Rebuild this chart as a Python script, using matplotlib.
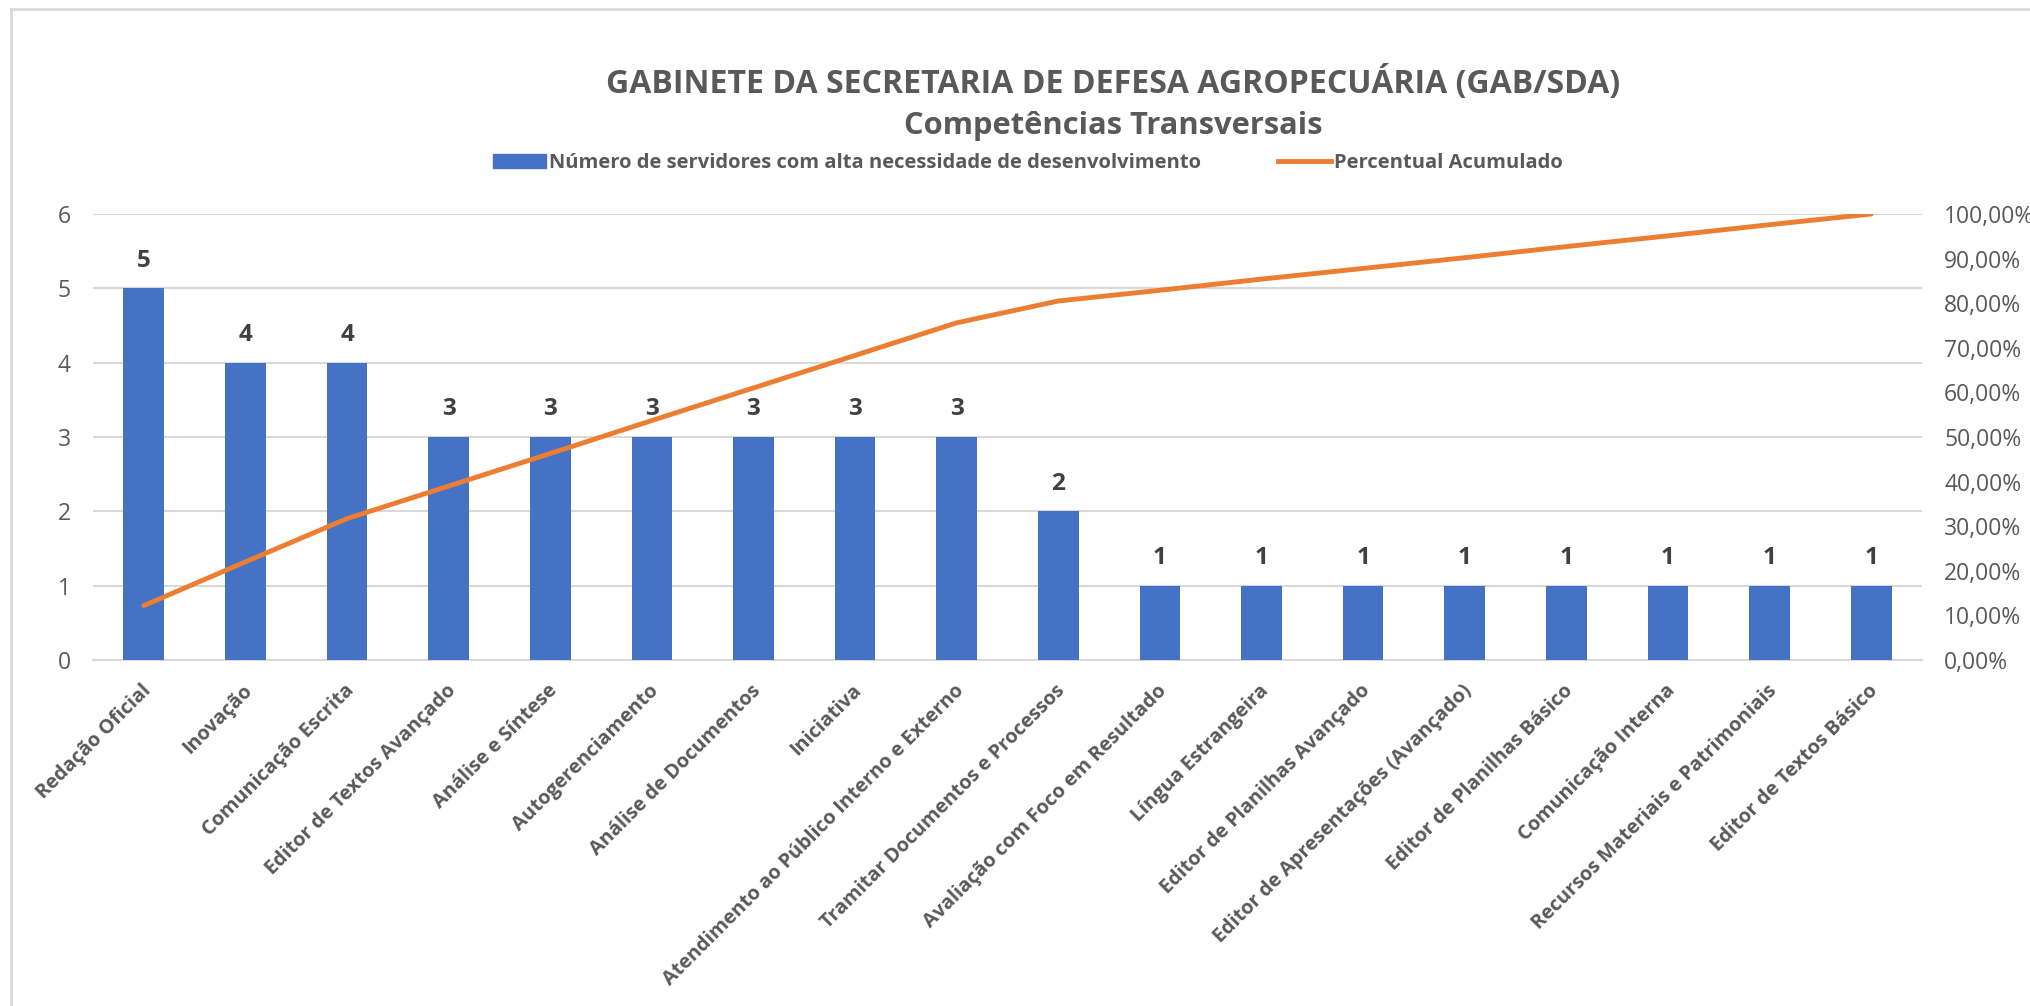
import matplotlib.pyplot as plt
import matplotlib.transforms as mtransforms
from matplotlib.lines import Line2D
from matplotlib.patches import Patch
import numpy as np

# fonte parecida com Calibri
plt.rcParams['font.family'] = ['Open Sans', 'DejaVu Sans']

#### DADOS ####
competencias = ['Redação Oficial', 'Inovação', 'Comunicação Escrita',
                'Editor de Textos Avançado', 'Análise e Síntese',
                'Autogerenciamento', 'Análise de Documentos', 'Iniciativa',
                'Atendimento ao Público Interno e Externo',
                'Tramitar Documentos e Processos',
                'Avaliação com Foco em Resultado', 'Língua Estrangeira',
                'Editor de Planilhas Avançado',
                'Editor de Apresentações (Avançado)',
                'Editor de Planilhas Básico', 'Comunicação Interna',
                'Recursos Materiais e Patrimoniais', 'Editor de Textos Básico']
servidores = [5, 4, 4, 3, 3, 3, 3, 3, 3, 2, 1, 1, 1, 1, 1, 1, 1, 1]
perc_acumulado = [12.2, 22.0, 31.7, 39.0, 46.3, 53.7, 61.0, 68.3, 75.6,
                  80.5, 82.9, 85.4, 87.8, 90.2, 92.7, 95.1, 97.6, 100.0]
left_ticks = [0, 1, 2, 3, 4, 5, 6]
right_ticks = [0, 10, 20, 30, 40, 50, 60, 70, 80, 90, 100]

titulo = 'GABINETE DA SECRETARIA DE DEFESA AGROPECUÁRIA (GAB/SDA)'
subtitulo = 'Competências Transversais'
leg_bar = 'Número de servidores com alta necessidade de desenvolvimento'
leg_line = 'Percentual Acumulado'

azul = '#4472C4'
laranja = '#ED7D31'
cinza_txt = '#595959'
cinza_grid = '#D9D9D9'

#### FIGURA ####
fig = plt.figure(figsize=(20.31, 10.06), dpi=100)
ax = fig.add_axes([93/2031, 1-660/1006, (1922-93)/2031, (660-214)/1006])
x = np.arange(len(competencias))

ax.bar(x, servidores, width=0.4, color=azul, zorder=3)
for xi, v in zip(x, servidores):
    ax.annotate(str(v), (xi, v), xytext=(0, 20), textcoords='offset points',
                ha='center', va='center', fontsize=17.5, fontweight='bold',
                color='#404040')

ax.set_ylim(0, 6)
ax.set_xlim(-0.5, len(competencias) - 0.5)
ax.set_yticks(left_ticks)
ax.grid(axis='y', color=cinza_grid, lw=1.5, zorder=0)
ax.set_axisbelow(True)
for s in ['top', 'right', 'left']:
    ax.spines[s].set_visible(False)
ax.spines['bottom'].set_color(cinza_grid)
ax.spines['bottom'].set_linewidth(1.5)
ax.tick_params(axis='y', length=0, pad=16, labelsize=16.5, labelcolor=cinza_txt)
ax.set_xticks(x)
ax.set_xticklabels(competencias, rotation=45, ha='right', va='top',
                   fontsize=14.3, fontweight='bold', color=cinza_txt)
ax.tick_params(axis='x', length=0, pad=15)
# desloca os rotulos um pouco para a direita, como no Excel
desloc = mtransforms.ScaledTranslation(8/72, 0, fig.dpi_scale_trans)
for lbl in ax.get_xticklabels():
    lbl.set_transform(lbl.get_transform() + desloc)

ax2 = ax.twinx()
ax2.plot(x, np.array(perc_acumulado) / 100, color=laranja, lw=3.5,
         solid_capstyle='round', solid_joinstyle='round', zorder=4)
ax2.set_ylim(0, 1)
ax2.set_yticks(np.array(right_ticks) / 100)
ax2.set_yticklabels(['{:.2f}%'.format(t).replace('.', ',') for t in right_ticks])
ax2.tick_params(axis='y', length=0, pad=16, labelsize=16.5, labelcolor=cinza_txt)
for s in ax2.spines.values():
    s.set_visible(False)

# titulos
fig.text(1113/2031, 1-83/1006, titulo, ha='center', va='center',
         fontsize=23, fontweight='bold', color=cinza_txt)
fig.text(1113/2031, 1-126/1006, subtitulo, ha='center', va='center',
         fontsize=22.2, fontweight='bold', color=cinza_txt)

# legenda
handles = [Patch(color=azul, label=leg_bar),
           Line2D([0], [0], color=laranja, lw=3.5, label=leg_line)]
leg = fig.legend(handles=handles, loc='center', bbox_to_anchor=(1028/2031, 1-163/1006),
                 ncol=2, frameon=False, handlelength=2.65, handletextpad=0.15,
                 columnspacing=3.8, prop={'size': 14.5, 'weight': 'bold'})
for t in leg.get_texts():
    t.set_color(cinza_txt)

# borda do grafico
fig.add_artist(Line2D([11/2031, 11/2031], [0, 1-9/1006], color=cinza_grid, lw=2))
fig.add_artist(Line2D([11/2031, 1], [1-9/1006, 1-9/1006], color=cinza_grid, lw=2))

plt.savefig('out.png', dpi=100)
